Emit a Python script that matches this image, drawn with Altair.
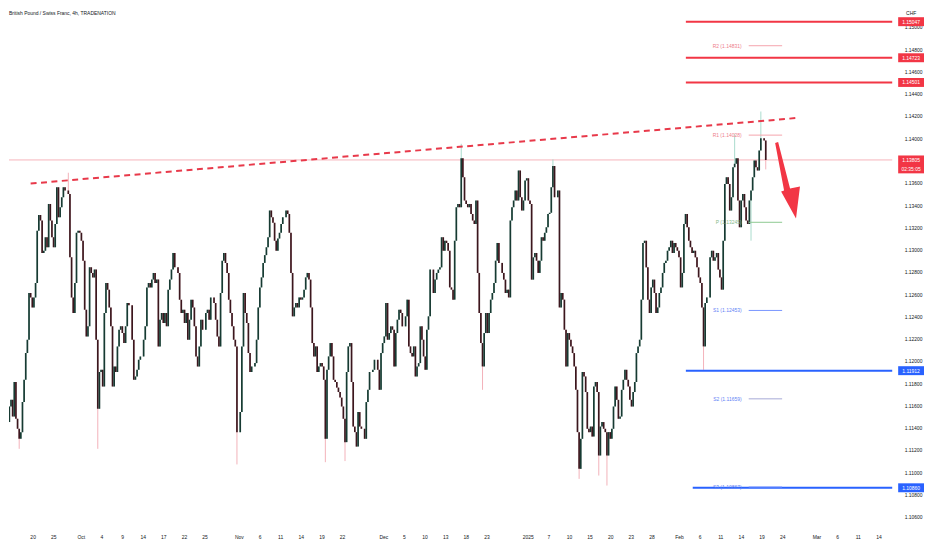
import altair as alt
import pandas as pd

FONT = "Liberation Sans"
TITLE = "British Pound / Swiss Franc, 4h, TRADENATION"
CURRENCY = "CHF"
COUNTDOWN = "02:35:05"

# candle time axis (trading days since Sep 17), regular candle spacing
T0 = -6 / 7
STEP = 5 / 21

# closes
close_sep_oct = [1.1136,1.1145,1.1159,1.1165,1.1150,1.1181,1.1148,1.1139,1.1130,1.1136,
 1.1163,1.1183,1.1207,1.1219,1.1261,1.1257,1.1248,1.1257,1.1270,1.1317,
 1.1331,1.1326,1.1297,1.1299,1.1311,1.1302,1.1341,1.1326,1.1311,1.1302,
 1.1323,1.1356,1.1329,1.1338,1.1347,1.1356,1.1353,1.1353,1.1350,1.1293,
 1.1257,1.1243,1.1270,1.1315,1.1317,1.1315,1.1308,1.1290,1.1246,1.1222,
 1.1231,1.1284,1.1279,1.1275,1.1282,1.1219,1.1157,1.1190,1.1192,1.1177,
 1.1243,1.1270,1.1264,1.1248,1.1231,1.1177,1.1195,1.1190,1.1213,1.1228,
 1.1231,1.1225,1.1216,1.1231,1.1252,1.1250,1.1250,1.1219,1.1183,1.1186,
 1.1192,1.1201,1.1204,1.1204,1.1219,1.1231,1.1266,1.1270,1.1266,1.1273,
 1.1279,1.1270,1.1273,1.1213,1.1237,1.1243,1.1234,1.1243,1.1231,1.1264,
 1.1273,1.1282,1.1297,1.1284,1.1284,1.1279,1.1255]
close_oct_nov = [1.1243,1.1246,1.1234,1.1243,1.1219,1.1237,1.1255,1.1248,1.1231,1.1204,
 1.1195,1.1213,1.1237,1.1228,1.1228,1.1243,1.1246,1.1237,1.1257,1.1257,
 1.1252,1.1237,1.1222,1.1213,1.1261,1.1290,1.1297,1.1288,1.1279,1.1255,
 1.1243,1.1231,1.1219,1.1213,1.1136,1.1136,1.1154,1.1213,1.1261,1.1243,
 1.1234,1.1207,1.1190,1.1195,1.1195,1.1198,1.1219,1.1248,1.1266,1.1275,
 1.1288,1.1295,1.1302,1.1311,1.1335,1.1329,1.1324,1.1308,1.1299,1.1310,
 1.1315,1.1323,1.1329,1.1329,1.1335,1.1332,1.1315,1.1279,1.1240,1.1248,
 1.1252,1.1248,1.1257,1.1255,1.1257,1.1264,1.1275,1.1279,1.1273,1.1248,
 1.1216,1.1204,1.1213,1.1190,1.1195,1.1198,1.1195,1.1183,1.1130,1.1192,
 1.1204,1.1216,1.1204,1.1183,1.1181,1.1176,1.1172,1.1167,1.1159,1.1148,
 1.1127,1.1190,1.1213,1.1216,1.1181]
close_nov_dec = [1.1141,1.1136,1.1123,1.1154,1.1141,1.1139,1.1139,1.1130,1.1163,1.1174,
 1.1190,1.1190,1.1192,1.1201,1.1201,1.1192,1.1174,1.1207,1.1216,1.1222,
 1.1252,1.1219,1.1225,1.1231,1.1228,1.1195,1.1225,1.1237,1.1246,1.1243,
 1.1231,1.1231,1.1240,1.1255,1.1213,1.1207,1.1204,1.1213,1.1186,1.1195,
 1.1198,1.1231,1.1219,1.1204,1.1192,1.1228,1.1240,1.1282,1.1282,1.1261,
 1.1273,1.1279,1.1282,1.1284,1.1311,1.1299,1.1308,1.1306,1.1299,1.1266,
 1.1264,1.1255,1.1308,1.1338,1.1341,1.1338,1.1382,1.1365,1.1344,1.1341,
 1.1338,1.1341,1.1332,1.1326,1.1323,1.1344,1.1279,1.1243,1.1216,1.1195,
 1.1225,1.1243,1.1225,1.1243,1.1255,1.1261,1.1270,1.1290,1.1306,1.1288,
 1.1288,1.1279,1.1273,1.1261,1.1264,1.1257,1.1326,1.1338,1.1344,1.1353,
 1.1344,1.1371,1.1347,1.1335]
close_jan_feb = [1.1344,1.1362,1.1364,1.1344,1.1341,1.1273,1.1293,1.1297,1.1290,1.1279,
 1.1290,1.1311,1.1308,1.1315,1.1320,1.1332,1.1333,1.1356,1.1375,1.1347,
 1.1347,1.1353,1.1248,1.1261,1.1255,1.1228,1.1195,1.1225,1.1219,1.1213,
 1.1207,1.1195,1.1174,1.1136,1.1103,1.1130,1.1190,1.1186,1.1172,1.1139,
 1.1136,1.1141,1.1132,1.1177,1.1181,1.1172,1.1115,1.1141,1.1145,1.1139,
 1.1136,1.1115,1.1136,1.1130,1.1139,1.1159,1.1177,1.1165,1.1148,1.1150,
 1.1174,1.1183,1.1192,1.1183,1.1177,1.1165,1.1159,1.1172,1.1181,1.1207,
 1.1213,1.1219,1.1255,1.1306,1.1308,1.1284,1.1255,1.1243,1.1266,1.1273,
 1.1261,1.1243,1.1248,1.1261,1.1266,1.1279,1.1288,1.1290,1.1299,1.1302,
 1.1308,1.1297,1.1306,1.1302,1.1299,1.1293,1.1266,1.1279,1.1323,1.1332,
 1.1320,1.1308,1.1302,1.1297,1.1299,1.1293,1.1284,1.1275,1.1270,1.1248,
 1.1213,1.1252,1.1257,1.1257,1.1293,1.1299,1.1290,1.1293,1.1297,1.1282,
 1.1275,1.1264,1.1308,1.1359,1.1365,1.1359,1.1335,1.1347,1.1374,1.1377,
 1.1382,1.1344,1.1320,1.1344,1.1350,1.1338,1.1326,1.1323,1.1344,1.1353,
 1.1365,1.1380,1.1374,1.1371,1.1389,1.1400,1.1400,1.1398,1.13805]

# notable wicks (candle index, price)
high_idx = [38, 278, 334, 445, 461]
high_val = [1.1369, 1.1395, 1.1381, 1.1404, 1.1424]
low_idx = [8, 56, 141, 195, 207, 291, 350, 362, 367, 426, 455, 464]
low_val = [1.1121, 1.1121, 1.1107, 1.1109, 1.1110, 1.1174, 1.1094, 1.1097, 1.1088, 1.1192, 1.1308, 1.1372]

# x axis ticks (trading days since Sep 17) and their labels
tick_days = [3,6,10,13,16,19,22,25,28,33,36,39,42,45,48,54,57,60,63,66,69,
             75,78,81,84,87,90,93,97,100,103,106,109,112,117,120,123,126]
tick_labels = ["20","25","Oct","4","9","14","17","22","25","Nov","6","11","14","19","22",
               "Dec","5","10","13","18","23","2025","7","10","15","20","23","28",
               "Feb","6","11","14","19","24","Mar","6","11","14"]
# price axis labels (1.13800 is hidden behind the current-price tag in the reference)
price_ticks = [1.106, 1.108, 1.110, 1.112, 1.114, 1.116, 1.118, 1.120, 1.122, 1.124, 1.126,
               1.128, 1.130, 1.132, 1.134, 1.136, 1.140, 1.142, 1.144, 1.146, 1.148, 1.150]

# horizontal levels
level_values = [1.15047, 1.14723, 1.14501, 1.11912, 1.10860]
level_start = [98.0, 98.0, 98.0, 98.0, 99.0]
level_colors = ["#f23645", "#f23645", "#f23645", "#2962ff", "#2962ff"]
current_price = 1.13805

# pivot points
pivot_names = ["R2", "R1", "P", "S1", "S2", "S3"]
pivot_values = [1.14831, 1.14028, 1.13245, 1.12453, 1.11659, 1.10867]
pivot_line_colors = ["#f5a3ac", "#f5a3ac", "#8cc990", "#7895ff", "#a6a8d6", "#7895ff"]
pivot_text_colors = ["#ee7d8a", "#ee7d8a", "#86b98a", "#5f82f5", "#5f82f5", "#5f82f5"]
PIV_X0, PIV_X1, PIV_TX = 107.14, 112.0, 106.1

# drawings
trend_days = [2.71, 114.14]
trend_prices = [1.13593, 1.14182]
arrow_day = [112.79]
arrow_price = [1.13619]

W, H = 889, 522
X_DOMAIN = [0.2857, 127.286]
Y_DOMAIN = [1.104957, 1.151543]
UP_WICK, DOWN_WICK = "#9fd6c7", "#f2a9b1"
UP_BODY, DOWN_BODY = "#173a32", "#3b171e"
RED, BLUE = "#f23645", "#2962ff"
TXT = "#131722"

closes = close_sep_oct + close_oct_nov + close_nov_dec + close_jan_feb
opens = [closes[0]] + closes[:-1]
highs = [max(o, c) for o, c in zip(opens, closes)]
lows = [min(o, c) for o, c in zip(opens, closes)]
for i, v in zip(high_idx, high_val):
    highs[i] = max(highs[i], v)
for i, v in zip(low_idx, low_val):
    lows[i] = min(lows[i], v)
candles = pd.DataFrame({
    "d": [T0 + i * STEP for i in range(len(closes))],
    "open": opens, "close": closes, "high": highs, "low": lows,
    "dir": ["up" if c >= o else "down" for o, c in zip(opens, closes)],
})

xs = alt.Scale(domain=X_DOMAIN, nice=False, zero=False)
ys = alt.Scale(domain=Y_DOMAIN, nice=False, zero=False)

x_label_expr = ("[" + ",".join("'%s'" % l for l in tick_labels) + "][indexof(["
                + ",".join(str(d) for d in tick_days) + "], datum.value)]")
x_axis = alt.Axis(values=tick_days, labelExpr=x_label_expr, orient="bottom", labelFontSize=5,
                  labelColor=TXT, labelPadding=6.5, ticks=False, domain=False, grid=False,
                  labelOverlap=False, labelFlush=False, labelFont=FONT, labelAngle=0, title=None)
y_axis = alt.Axis(values=price_ticks, labelExpr="format(datum.value, '.5f')", orient="right",
                  labelFontSize=5, labelColor=TXT, labelPadding=12, ticks=False, domain=False,
                  grid=False, labelOverlap=False, labelFlush=False, labelFont=FONT,
                  labelAlign="left", labelBaseline="middle", title=None)


def X(f):
    return alt.X(f, type="quantitative", scale=xs, axis=x_axis, title=None)


def Y(f):
    return alt.Y(f, type="quantitative", scale=ys, axis=y_axis, title=None)


cur_df = pd.DataFrame({"v": [current_price]})
cur_line = alt.Chart(cur_df).mark_rule(color="#f6b3ba", strokeWidth=1).encode(
    y=Y("v"), x=alt.value(0), x2=alt.value(W))

wicks = alt.Chart(candles).mark_rule(clip=True, strokeWidth=0.9).encode(
    x=X("d"), y=Y("low"), y2="high",
    color=alt.condition("datum.dir == 'up'", alt.value(UP_WICK), alt.value(DOWN_WICK)))

bodies = alt.Chart(candles).mark_bar(clip=True, size=1.7).encode(
    x=X("d"), y=Y("open"), y2="close",
    color=alt.condition("datum.dir == 'up'", alt.value(UP_BODY), alt.value(DOWN_BODY)))

trend_df = pd.DataFrame({"d": trend_days, "v": trend_prices})
trend = alt.Chart(trend_df).mark_line(color="#e8394a", strokeWidth=2, strokeDash=[6, 4.5]).encode(
    x=X("d"), y=Y("v"))

lv_df = pd.DataFrame({"v": level_values, "x0": level_start, "c": level_colors})
levels = alt.Chart(lv_df).mark_rule(strokeWidth=2).encode(
    x=X("x0"), x2=alt.value(W), y=Y("v"), color=alt.Color("c:N", scale=None))

pv_df = pd.DataFrame({
    "v": pivot_values,
    "label": ["%s (%.5f)" % (n, v) for n, v in zip(pivot_names, pivot_values)],
    "lc": pivot_line_colors, "tc": pivot_text_colors,
    "x0": [PIV_X0] * 6, "x1": [PIV_X1] * 6, "tx": [PIV_TX] * 6,
})
piv_lines = alt.Chart(pv_df).mark_rule(strokeWidth=1).encode(
    x=X("x0"), x2="x1", y=Y("v"), color=alt.Color("lc:N", scale=None))
piv_text = alt.Chart(pv_df).mark_text(align="right", baseline="middle", fontSize=5, font=FONT).encode(
    x=X("tx"), y=Y("v"), text="label:N", color=alt.Color("tc:N", scale=None))

ARROW = "M-0.3125,-0.95L-0.2375,-0.975L0.0625,0.2L0.3125,0.15L0.2125,0.95L-0.1625,0.275L-0.0875,0.25Z"
ar_df = pd.DataFrame({"d": arrow_day, "v": arrow_price})
arrow = alt.Chart(ar_df).mark_point(shape=ARROW, size=6400, filled=True, opacity=1,
                                    strokeWidth=0, color=RED).encode(x=X("d"), y=Y("v"))

BOX = "M-1,-0.346L1,-0.346L1,0.346L-1,0.346Z"
BOX2 = "M-1,-0.692L1,-0.692L1,0.692L-1,0.692Z"
TAG_X = 908
tag_df = pd.DataFrame({"v": level_values, "t": ["%.5f" % v for v in level_values], "c": level_colors})
tags = alt.Chart(tag_df).mark_point(shape=BOX, size=676, filled=True, opacity=1, strokeWidth=0).encode(
    x=alt.value(TAG_X), y=Y("v"), color=alt.Color("c:N", scale=None))
tag_text = alt.Chart(tag_df).mark_text(color="white", fontSize=5, font=FONT, baseline="middle").encode(
    x=alt.value(TAG_X), y=Y("v"), text="t:N")

cur_tag_df = pd.DataFrame({"v": [current_price], "t": ["%.5f" % current_price], "cd": [COUNTDOWN]})
cur_tag = alt.Chart(cur_tag_df).mark_point(shape=BOX2, size=676, filled=True, opacity=1,
                                           strokeWidth=0, color=RED, yOffset=4.5).encode(
    x=alt.value(TAG_X), y=Y("v"))
cur_text = alt.Chart(cur_tag_df).mark_text(color="white", fontSize=5, font=FONT, baseline="middle").encode(
    x=alt.value(TAG_X), y=Y("v"), text="t:N")
cur_cd = alt.Chart(cur_tag_df).mark_text(color="white", fontSize=5, font=FONT, baseline="middle", dy=9).encode(
    x=alt.value(TAG_X), y=Y("v"), text="cd:N")

head_df = pd.DataFrame({"title": [TITLE], "cur": [CURRENCY]})
title = alt.Chart(head_df).mark_text(align="left", baseline="middle", fontSize=5, font=FONT, color=TXT).encode(
    x=alt.value(0), y=alt.value(3), text="title:N")
cur_name = alt.Chart(head_df).mark_text(align="left", baseline="middle", fontSize=5, font=FONT, color=TXT).encode(
    x=alt.value(903), y=alt.value(3), text="cur:N")

chart = alt.layer(
    cur_line, wicks, bodies, trend, levels, piv_lines, piv_text, arrow,
    tags, tag_text, cur_tag, cur_text, cur_cd, title, cur_name,
).properties(width=W, height=H, padding=0, background="white").configure_view(stroke=None)

chart.save("out.html", embed_options={"renderer": "svg", "actions": False})
